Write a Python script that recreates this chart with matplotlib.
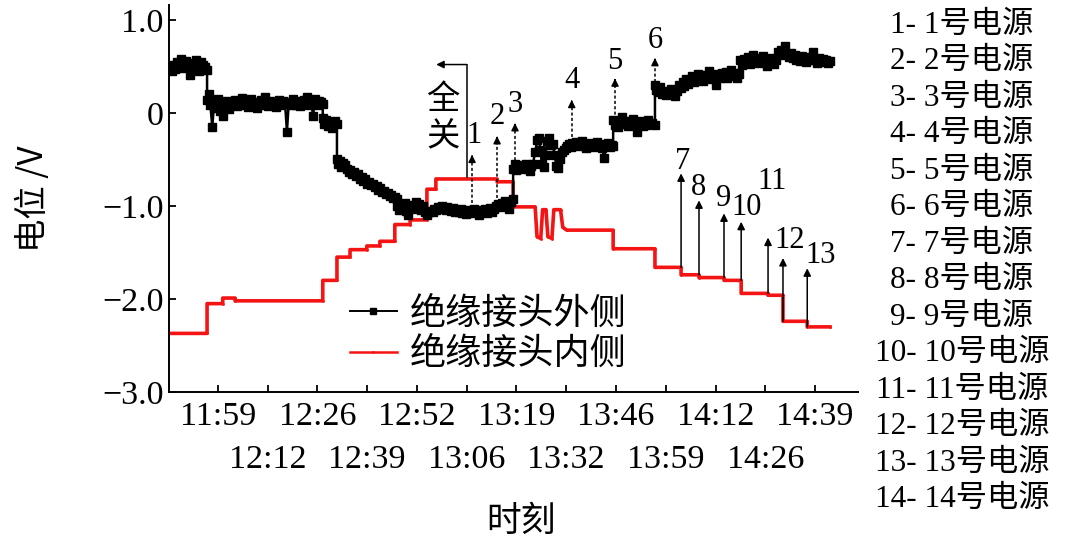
import matplotlib
matplotlib.use('Agg')
import matplotlib.pyplot as plt
from matplotlib.lines import Line2D

CJK = 'Noto Sans CJK SC'
SERIF = 'Liberation Serif'
plt.rcParams['font.family'] = [SERIF, CJK]
plt.rcParams['axes.unicode_minus'] = True

# ---------------- data (time in minutes of the day, potential in V) ----------------
outer_t = [706.6, 707, 707.5, 708, 708.5, 709, 709.5, 710, 710.5, 711, 711.5, 712, 712.5, 713, 713.5,
           714, 714.5, 715, 715.5, 716.1,
           716.1, 716.5, 717, 717.5, 718, 718.5, 719, 719.5, 720, 720.5, 721, 721.5, 722, 722.5, 723,
           723.5, 724, 724.5, 725, 725.5, 726, 726.5, 727, 727.5, 728, 728.5, 729, 729.5, 730, 730.5,
           731, 731.5, 732, 732.5, 733, 733.5, 734, 734.5, 735, 735.5, 736, 736.5, 737, 737.5, 738,
           738.5, 739, 739.5, 740, 740.5, 741, 741.5, 742, 742.5, 743, 743.5, 744, 744.5, 745, 745.5,
           746, 746.5, 747.1,
           747.1, 747.5, 748, 748.5, 749, 749.5, 750, 750.5, 750.9,
           750.9, 751.3, 751.7, 752, 752.5, 753, 753.5, 754, 754.5, 755, 755.5, 756, 756.5, 757, 757.5,
           758, 758.5, 759, 759.5, 760, 760.5, 761, 761.5, 762, 762.5, 763, 763.5, 764, 764.5, 765,
           765.5, 766, 766.5, 767,
           767, 767.5, 768, 768.5, 769, 769.5, 770, 770.5, 771, 771.5, 772, 772.5, 773, 773.5, 774,
           774.5, 775, 775.5, 776, 776.5, 777, 777.5, 778, 778.5, 779, 779.5, 780, 780.5, 781, 781.5,
           782, 782.5, 783, 783.5, 784, 784.5, 785, 785.5, 786, 786.5, 787, 787.5, 788, 788.5, 789,
           789.5, 790, 790.5, 791, 791.5, 792, 792.5, 793, 793.5, 794, 794.5, 795, 795.5, 796, 796.5,
           797, 797.5, 798.1,
           798.1, 798.5, 799, 799.5, 800, 800.5, 801, 801.5, 802, 802.5, 803, 803.4,
           804.0, 804.6, 805.0, 805.4, 805.8, 806.3, 806.8, 807.2, 807.7, 808.2, 808.7, 809.2, 809.7,
           810.2, 810.7, 811.2, 811.7, 812.2,
           812.5, 813, 813.5, 814, 814.5, 815, 815.5, 816, 816.5, 817, 817.5, 818, 818.5, 819, 819.5,
           820, 820.5, 821, 821.5, 822, 822.5, 823, 823.5, 824, 824.5, 824.9,
           824.9, 825.3, 825.8, 826.3, 826.8, 827.3, 827.8, 828.3, 828.8, 829.3, 829.8, 830.3, 830.8,
           831.3, 831.8, 832.3, 832.8, 833.3, 833.8, 834.3, 834.8, 835.3, 836.1,
           836.1, 836.5, 837, 837.5, 838, 838.5, 839, 839.5, 840, 840.5, 841, 841.5, 842, 842.5, 843,
           843.5, 844, 844.5, 845, 845.5, 846, 846.5, 847, 847.5, 848, 848.5, 849, 849.5, 850, 850.5,
           851, 851.5, 852, 852.5, 853, 853.5, 854, 854.5, 855, 855.5, 856, 856.5, 857, 857.5, 858,
           858.5, 858.9, 859.5, 860, 860.5, 861, 861.5, 862, 862.5, 863, 863.5, 864, 864.5, 865, 865.5,
           866, 866.5, 867, 867.5, 868, 868.5, 869, 869.5, 870, 870.5, 871, 871.5, 872, 872.5, 873,
           873.5, 874, 874.5, 875, 875.5, 876, 876.5, 877, 877.5, 878, 878.5, 879, 879.5, 880, 880.5,
           881, 881.5, 882, 882.5, 883]
outer_v = [0.45, 0.52, 0.47, 0.55, 0.50, 0.58, 0.48, 0.53, 0.56, 0.49, 0.41, 0.54, 0.51, 0.57, 0.48,
           0.45, 0.55, 0.52, 0.49, 0.46,
           0.14, 0.20, 0.08, -0.15, 0.12, 0.05, 0.15, 0.02, 0.10, -0.03, 0.08, 0.13, 0.04, 0.11, 0.09,
           0.14, 0.07, 0.12, 0.10, 0.16, 0.08, 0.11, 0.06, 0.13, 0.15, 0.09, 0.12, 0.05, 0.11, 0.14,
           0.08, 0.17, 0.10, 0.07, 0.13, 0.09, 0.12, 0.06, 0.11, 0.14, 0.09, 0.13, 0.10, -0.20, 0.12,
           0.08, 0.15, 0.11, 0.09, 0.13, 0.07, 0.12, 0.14, 0.10, 0.17, 0.08, 0.12, -0.03, 0.15, 0.09,
           0.13, 0.12, 0.10,
           -0.06, -0.12, -0.08, -0.14, -0.10, -0.16, -0.11, -0.09, -0.12,
           -0.50, -0.55, -0.52, -0.58, -0.54, -0.56, -0.60, -0.63, -0.61, -0.66, -0.64, -0.68, -0.66,
           -0.71, -0.69, -0.73, -0.71, -0.76, -0.74, -0.78, -0.76, -0.80, -0.79, -0.83, -0.81, -0.85,
           -0.84, -0.87, -0.86, -0.89, -0.88, -0.91, -0.90, -0.92,
           -1.00, -1.04, -0.98, -1.02, -0.97, -1.05, -1.10, -1.01, -0.99, -1.03, -0.96, -1.02, -0.98,
           -1.04, -1.00, -1.06, -1.10, -1.07, -1.05, -1.06, -1.03, -1.04, -1.01, -1.03, -1.00, -1.02,
           -1.04, -1.01, -1.03, -1.05, -1.02, -1.06, -1.04, -1.07, -1.03, -1.08, -1.05, -1.09, -1.04,
           -1.06, -1.08, -1.03, -1.07, -1.05, -1.10, -1.04, -1.06, -1.03, -1.08, -1.05, -1.02, -1.06,
           -1.03, -1.00, -0.98, -1.01, -0.97, -0.99, -0.95, -0.98, -1.03, -0.96, -0.93,
           -0.60, -0.55, -0.61, -0.57, -0.59, -0.56, -0.60, -0.55, -0.58, -0.62, -0.57, -0.55,
           -0.42, -0.29, -0.27, -0.40, -0.55, -0.58, -0.45, -0.30, -0.27, -0.35, -0.33, -0.45, -0.57,
           -0.59, -0.50, -0.42, -0.40, -0.38,
           -0.36, -0.33, -0.37, -0.32, -0.35, -0.31, -0.36, -0.34, -0.30, -0.35, -0.38, -0.33, -0.36,
           -0.32, -0.37, -0.34, -0.31, -0.36, -0.33, -0.38, -0.48, -0.35, -0.32, -0.37, -0.34, -0.36,
           -0.08, -0.13, -0.10, -0.15, -0.11, -0.04, -0.12, -0.09, -0.14, -0.10, -0.13, -0.07, -0.12,
           -0.20, -0.11, -0.09, -0.14, -0.10, -0.13, -0.08, -0.12, -0.11, -0.13,
           0.30, 0.25, 0.22, 0.28, 0.20, 0.24, 0.19, 0.23, 0.21, 0.26, 0.22, 0.18, 0.24, 0.30, 0.27,
           0.33, 0.29, 0.36, 0.31, 0.35, 0.40, 0.33, 0.38, 0.42, 0.36, 0.39, 0.34, 0.41, 0.37, 0.45,
           0.39, 0.36, 0.42, 0.30, 0.40, 0.38, 0.43, 0.39, 0.44, 0.37, 0.41, 0.46, 0.40, 0.43, 0.38,
           0.42, 0.57, 0.52, 0.58, 0.55, 0.60, 0.53, 0.57, 0.62, 0.55, 0.59, 0.54, 0.58, 0.61, 0.56,
           0.50, 0.58, 0.55, 0.59, 0.53, 0.57, 0.66, 0.62, 0.68, 0.64, 0.72, 0.63, 0.60, 0.64, 0.59,
           0.62, 0.57, 0.60, 0.56, 0.61, 0.58, 0.55, 0.59, 0.57, 0.60, 0.66, 0.57, 0.54, 0.59, 0.56,
           0.58, 0.55, 0.57, 0.54, 0.56]

inner_t = [706.6, 716.1, 716.1, 720.3, 720.3, 723.6, 723.6, 747.1, 747.1, 750.9, 750.9, 754.4, 754.4,
           758.9, 758.9, 762.4, 762.4, 766.4, 766.4, 770.5, 770.5, 775.0, 775.0, 777.4, 777.4, 793.8,
           793.8, 798.1, 798.1, 804.0, 804.5, 805.5, 806.0, 806.9, 807.4, 808.5, 809.0, 810.8, 811.4,
           812.5, 824.9, 824.9, 836.1, 836.1, 843.1, 843.1, 847.9, 847.9, 854.6, 854.6, 859.2, 859.2,
           866.4, 866.4, 870.4, 870.4, 876.9, 876.9, 883.0]
inner_v = [-2.37, -2.37, -2.05, -2.05, -1.99, -1.99, -2.02, -2.02, -1.80, -1.80, -1.55, -1.55, -1.47,
           -1.47, -1.43, -1.43, -1.38, -1.38, -1.20, -1.20, -1.15, -1.15, -0.82, -0.82, -0.71, -0.71,
           -0.74, -0.74, -1.01, -1.01, -1.33, -1.35, -1.04, -1.04, -1.33, -1.35, -1.04, -1.04, -1.23,
           -1.26, -1.26, -1.46, -1.46, -1.66, -1.66, -1.74, -1.74, -1.77, -1.77, -1.80, -1.80, -1.94,
           -1.94, -1.96, -1.96, -2.24, -2.24, -2.30, -2.30]

tick_pos = [719.0, 732.33, 745.67, 759.0, 772.33, 785.67, 799.0, 812.33, 825.67, 839.0, 852.33,
            865.67, 879.0]
tick_labels = ['11:59', '12:12', '12:26', '12:39', '12:52', '13:06', '13:19', '13:32', '13:46',
               '13:59', '14:12', '14:26', '14:39']
ytick_pos = [1.0, 0.0, -1.0, -2.0, -3.0]
ytick_labels = ['1.0', '0', '\u22121.0', '\u22122.0', '\u22123.0']

series_names = ['绝缘接头外侧', '绝缘接头内侧']

# switch-on events: dashed (measured on outer side), solid (on inner side)
dash_labels = ['1', '2', '3', '4', '5', '6']
dash_t = [787.1, 793.8, 798.6, 813.8, 825.4, 836.1]
dash_from = [-0.97, -0.91, -0.62, -0.26, -0.08, 0.33]
dash_to = [-0.42, -0.22, -0.08, 0.17, 0.40, 0.62]
dash_lab_xy = [(787.6, -0.24), (793.8, -0.04), (798.6, 0.09), (813.8, 0.35), (825.4, 0.55), (836.1, 0.78)]

solid_labels = ['7', '8', '9', '10', '11', '12', '13']
solid_t = [843.1, 847.9, 854.6, 859.2, 866.4, 870.4, 876.9]
solid_from = [-1.66, -1.74, -1.77, -1.80, -1.94, -2.24, -2.30]
solid_to = [-0.65, -0.94, -1.08, -1.17, -1.34, -1.56, -1.67]
solid_lab_xy = [(843.4, -0.52), (847.9, -0.80), (854.4, -0.92), (860.6, -1.02), (867.5, -0.74),
                (872.2, -1.37), (880.6, -1.53)]

source_list = ['%d- %d号电源' % (i, i) for i in range(1, 15)]

# ---------------- figure ----------------
W, H = 1080, 543
fig = plt.figure(figsize=(W / 100, H / 100), dpi=100)
ax = fig.add_axes([169 / W, (H - 392) / H, 689 / W, 387 / H])

RED = '#f51414'
l1, = ax.plot(outer_t, outer_v, color='black', lw=1.8, marker='s', ms=6, zorder=3)
l2, = ax.plot(inner_t, inner_v, color=RED, lw=2.6, marker='.', ms=2, zorder=2)

ax.set_xlim(705.9, 890.5)
ax.set_ylim(-3.0, 1.16)
for s in ['top', 'right']:
    ax.spines[s].set_visible(False)
for s in ['left', 'bottom']:
    ax.spines[s].set_linewidth(1.4)

ax.set_xticks(tick_pos)
ax.set_xticklabels(tick_labels, fontsize=24.5, family=SERIF)
ax.set_yticks(ytick_pos)
ax.set_yticklabels(ytick_labels, fontsize=24.5, family=SERIF)
ax.tick_params(direction='in', length=5, width=1.3)
ax.tick_params(axis='y', pad=4)
for i, tk in enumerate(ax.xaxis.get_major_ticks()):
    tk.set_pad(7 if i % 2 == 0 else 38)

ax.set_ylabel('电位 /V', fontsize=24, family=[CJK, SERIF])
ax.yaxis.set_label_coords(-0.171, 0.5)
ax.set_xlabel('时刻', fontsize=25, family=CJK)
ax.xaxis.set_label_coords(0.511, -0.29)

# dashed arrows 1-6
for lab, t, y0, y1, (lx, ly) in zip(dash_labels, dash_t, dash_from, dash_to, dash_lab_xy):
    ax.plot([t, t], [y0, y1 - 0.06], color='black', lw=1.1, ls=(0, (2, 1.5)), zorder=4)
    ax.annotate('', xy=(t, y1), xytext=(t, y1 - 0.08),
                arrowprops=dict(arrowstyle='-|>', color='black', lw=1, mutation_scale=11), zorder=4)
    ax.text(lx, ly, lab, fontsize=22, family=SERIF, ha='center', va='center')

# solid arrows 7-13
for lab, t, y0, y1, (lx, ly) in zip(solid_labels, solid_t, solid_from, solid_to, solid_lab_xy):
    ax.annotate('', xy=(t, y1), xytext=(t, y0),
                arrowprops=dict(arrowstyle='-|>', color='black', lw=1.1, mutation_scale=11,
                                shrinkA=0, shrinkB=0), zorder=4)
    ax.text(lx, ly, lab, fontsize=22, family=SERIF, ha='center', va='center')

# "全关" (all off) marker
ax.plot([785.7, 785.7], [-0.69, 0.52], color='black', lw=1.1, zorder=4)
ax.annotate('', xy=(777.5, 0.52), xytext=(785.7, 0.52),
            arrowprops=dict(arrowstyle='-|>', color='black', lw=1.1, mutation_scale=11,
                            shrinkA=0, shrinkB=0), zorder=4)
ax.text(779.3, 0.14, '全', fontsize=24, family=CJK, ha='center', va='center')
ax.text(779.3, -0.26, '关', fontsize=24, family=CJK, ha='center', va='center')

# legend
h1 = Line2D([], [], color='black', lw=1.4, marker='s', ms=4)
h2 = Line2D([], [], color=RED, lw=1.8, marker='.', ms=2)
fig.legend([h1, h2], series_names, loc='center left',
           bbox_to_anchor=(350 / W, 1 - 334 / H), bbox_transform=fig.transFigure,
           frameon=False, prop={'family': CJK, 'size': 26}, numpoints=1,
           handlelength=1.3, handletextpad=0.35, borderpad=0, borderaxespad=0, labelspacing=0.12)

# right-side key
for i, s in enumerate(source_list):
    fig.text(962 / W, 1 - (25 + 36.5 * i) / H, s, fontsize=22.5, family=[SERIF, CJK],
             ha='center', va='center')

fig.savefig('out.png', dpi=100, facecolor='white')
